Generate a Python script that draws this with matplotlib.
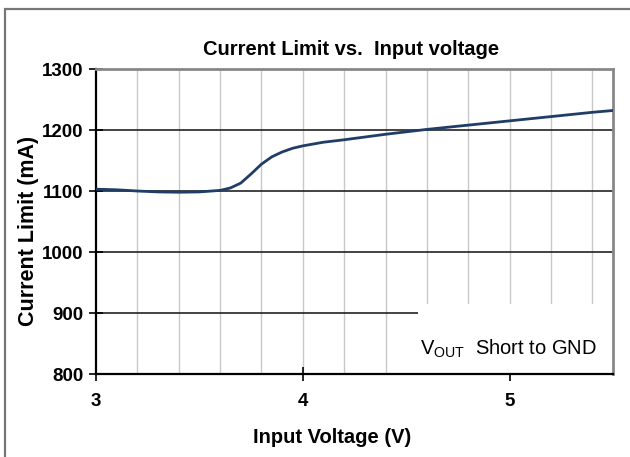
import matplotlib.pyplot as plt
from matplotlib.patches import Rectangle
import numpy as np

# values
vin = [3.0, 3.1, 3.2, 3.3, 3.4, 3.5, 3.6, 3.65, 3.7, 3.75, 3.8, 3.85, 3.9,
       3.95, 4.0, 4.1, 4.2, 4.4, 4.6, 4.8, 5.0, 5.2, 5.4, 5.5]
ilim = [1103, 1102, 1100, 1098.5, 1098, 1098.5, 1101, 1105, 1113, 1128, 1144,
        1156, 1164, 1170, 1174, 1180, 1184, 1193, 1201, 1208, 1215, 1222, 1229, 1232]

x_ticks = [3, 4, 5]
y_ticks = [800, 900, 1000, 1100, 1200, 1300]

plt.rcParams['font.family'] = ['Liberation Sans', 'DejaVu Sans']

fig = plt.figure(figsize=(6.3, 4.57), dpi=100)
ax = fig.add_axes([0.1524, 0.1816, 0.8206, 0.6674])

# outer frame around the figure
fig.patches.append(Rectangle((0.0075, -0.1), 1.2, 1.08, transform=fig.transFigure,
                             fill=False, edgecolor='#777777', linewidth=1.6))

ax.set_xlim(3, 5.5)
ax.set_ylim(800, 1300)

for v in np.arange(3.2, 5.5, 0.2):
    ax.axvline(v, color='#c8c8c8', linewidth=1.0, zorder=1)
for c in y_ticks[1:-1]:
    ax.axhline(c, color='#222222', linewidth=1.2, zorder=1)

ax.plot(vin, ilim, color='#1f3d66', linewidth=2.0, zorder=3)

ax.set_xticks(x_ticks)
ax.set_yticks(y_ticks)
ax.tick_params(axis='both', direction='inout', length=10, width=1.2, labelsize=13.5)
ax.tick_params(axis='x', pad=9)
ax.tick_params(axis='y', pad=4)
for lab in ax.get_xticklabels() + ax.get_yticklabels():
    lab.set_fontweight('bold')

ax.spines['left'].set_linewidth(1.6)
ax.spines['bottom'].set_linewidth(1.6)
ax.spines['top'].set_color('#888888')
ax.spines['right'].set_color('#888888')
ax.spines['top'].set_linewidth(2)
ax.spines['right'].set_linewidth(2)

ax.set_title("Current Limit vs.  Input voltage", fontsize=14.5, fontweight='bold',
             x=0.494, y=1.065, pad=0, va='center')
ax.set_xlabel("Input Voltage (V)", fontsize=14.5, fontweight='bold', va='center')
ax.xaxis.set_label_coords(0.457, -0.209)
ax.set_ylabel("Current Limit (mA)", fontsize=15.5, fontweight='bold', va='center')
ax.yaxis.set_label_coords(-0.13, 0.47)

# note box in the lower right corner
ax.add_patch(Rectangle((0.622, 0.0), 0.378, 0.229, transform=ax.transAxes,
                       facecolor='white', edgecolor='none', zorder=2))
ax.text(0.626, 0.082, r"V$_{\mathregular{OUT}}$  Short to GND", transform=ax.transAxes,
        fontsize=14.5, va='center', ha='left', zorder=5)

plt.savefig("out.png", dpi=100)
